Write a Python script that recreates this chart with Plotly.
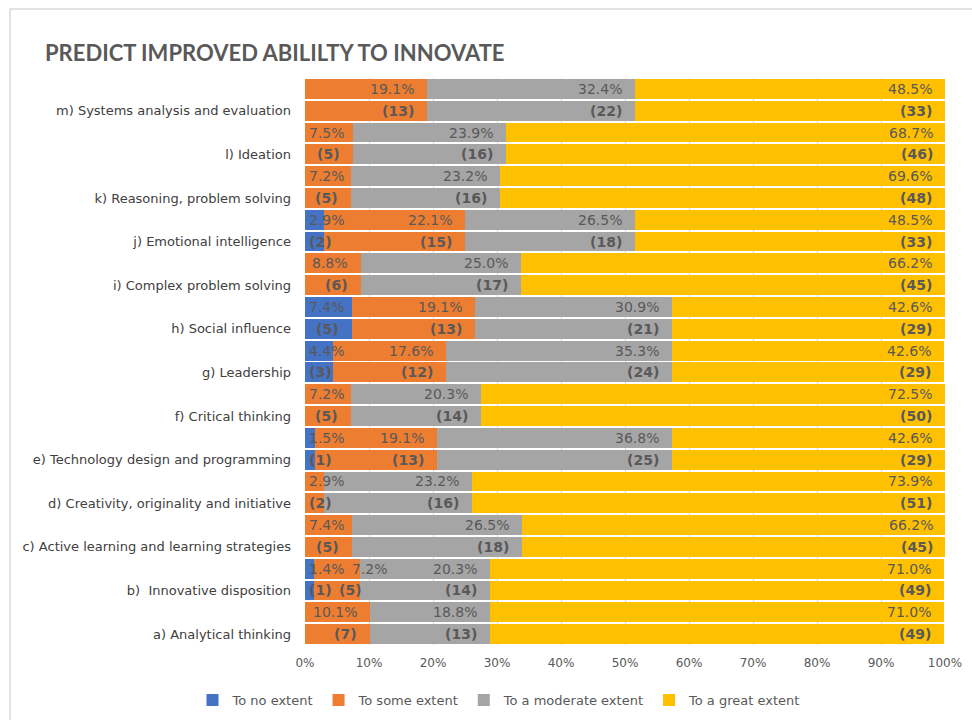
import plotly.graph_objects as go

categories = [
    "a) Analytical thinking",
    "b)  Innovative disposition",
    "c) Active learning and learning strategies",
    "d) Creativity, originality and initiative",
    "e) Technology design and programming",
    "f) Critical thinking",
    "g) Leadership",
    "h) Social influence",
    "i) Complex problem solving",
    "j) Emotional intelligence",
    "k) Reasoning, problem solving",
    "l) Ideation",
    "m) Systems analysis and evaluation",
]
series_names = ["To no extent", "To some extent", "To a moderate extent", "To a great extent"]
colors = ["#4472C4", "#ED7D31", "#A5A5A5", "#FFC000"]

pct_none = [0, 1.4, 0, 0, 1.5, 0, 4.4, 7.4, 0, 2.9, 0, 0, 0]
pct_some = [10.1, 7.2, 7.4, 2.9, 19.1, 7.2, 17.6, 19.1, 8.8, 22.1, 7.2, 7.5, 19.1]
pct_mod = [18.8, 20.3, 26.5, 23.2, 36.8, 20.3, 35.3, 30.9, 25.0, 26.5, 23.2, 23.9, 32.4]
pct_great = [71.0, 71.0, 66.2, 73.9, 42.6, 72.5, 42.6, 42.6, 66.2, 48.5, 69.6, 68.7, 48.5]

cnt_none = [0, 1, 0, 0, 1, 0, 3, 5, 0, 2, 0, 0, 0]
cnt_some = [7, 5, 5, 2, 13, 5, 12, 13, 6, 15, 5, 5, 13]
cnt_mod = [13, 14, 18, 16, 25, 14, 24, 21, 17, 18, 16, 16, 22]
cnt_great = [49, 49, 45, 51, 29, 50, 29, 29, 45, 33, 48, 46, 33]

pcts = [pct_none, pct_some, pct_mod, pct_great]
cnts = [cnt_none, cnt_some, cnt_mod, cnt_great]

FONT = "DejaVu Sans, Verdana, sans-serif"
TITLE_FONT = "Lato, Carlito, Calibri, sans-serif"
TXT = "#595959"
LBL_SIZE = 14

n = len(categories)
y_top = [i + 0.25 for i in range(n)]
y_bot = [i - 0.25 for i in range(n)]

fig = go.Figure()
for s in range(4):
    fig.add_trace(go.Bar(
        orientation="h",
        y=y_top + y_bot,
        x=pcts[s] + pcts[s],
        width=0.455,
        name=series_names[s],
        marker=dict(color=colors[s], line=dict(width=0)),
        hoverinfo="skip",
    ))

# label placement (Excel-like inside-end, shifted when it does not fit)
PX_PER_UNIT = 6.4
CW_REG = {".": 0.318, "%": 0.95, "(": 0.39, ")": 0.39}
CW_BOLD = {".": 0.38, "%": 1.0, "(": 0.457, ")": 0.457}


def width_units(t, bold=False):
    table = CW_BOLD if bold else CW_REG
    dig = 0.696 if bold else 0.636
    w = sum(table.get(c, dig) for c in t) * LBL_SIZE
    return w / PX_PER_UNIT


PAD_R = 11 / PX_PER_UNIT
PAD_L = 2 / PX_PER_UNIT
GAP = 7 / PX_PER_UNIT

annotations = []
for i in range(n):
    for row, (yy, bold) in enumerate([(y_top[i], False), (y_bot[i], True)]):
        start = 0.0
        prev_right = -1e9
        for s in range(4):
            v = pcts[s][i]
            end = start + v
            if v > 0:
                t = f"{v:.1f}%" if row == 0 else f"({cnts[s][i]})"
                w = width_units(t, bold)
                min_left = max(start + PAD_L, prev_right + GAP)
                right = end - PAD_R
                if right - w >= min_left:
                    x, anchor = right, "right"
                    prev_right = right
                else:
                    x, anchor = min_left, "left"
                    prev_right = min_left + w
                annotations.append(dict(
                    x=x, y=yy, xref="x", yref="y", text=(f"<b>{t}</b>" if bold else t),
                    showarrow=False, xanchor=anchor, yanchor="middle",
                    font=dict(family=FONT, size=LBL_SIZE, color=TXT),
                ))
            start = end


def px_x(p):
    return (p - 305) / 640.0


def px_y(p):
    return (645 - p) / 567.0


# chart frame (left and top border like the Excel chart area)
shapes = [
    dict(type="line", xref="paper", yref="paper", x0=px_x(10), x1=px_x(10),
         y0=px_y(9), y1=px_y(725), line=dict(color="#D9D9D9", width=1.5), layer="below"),
    dict(type="line", xref="paper", yref="paper", x0=px_x(10), x1=px_x(985),
         y0=px_y(9), y1=px_y(9), line=dict(color="#D9D9D9", width=1.5), layer="below"),
]

fig.update_layout(
    width=972, height=720,
    margin=dict(l=305, r=27, t=78, b=75, autoexpand=False),
    barmode="stack",
    plot_bgcolor="white", paper_bgcolor="white",
    font=dict(family=FONT, color=TXT, size=13),
    title=dict(
        text="<b>PREDICT IMPROVED ABILILTY TO INNOVATE</b>",
        x=45 / 972, xanchor="left", xref="container",
        y=1 - 53 / 720, yanchor="middle", yref="container",
        font=dict(family=TITLE_FONT, size=22, color=TXT),
    ),
    xaxis=dict(
        range=[0, 100], dtick=10, ticksuffix="%", showgrid=True,
        gridcolor="#D9D9D9", gridwidth=1, zeroline=False, showline=False,
        tickfont=dict(family=FONT, size=12, color=TXT), fixedrange=True,
        ticklabelstandoff=9,
    ),
    yaxis=dict(
        range=[-0.5, n - 0.5], tickvals=y_bot, ticktext=categories,
        showgrid=False, zeroline=False, showline=False, ticks="",
        tickfont=dict(family=FONT, size=13, color="#404040"), fixedrange=True,
        ticklabelstandoff=13,
    ),
    legend=dict(
        orientation="h", x=px_x(499), xanchor="center", y=px_y(700), yanchor="middle",
        font=dict(family=FONT, size=13, color=TXT), traceorder="normal",
        itemclick=False, itemdoubleclick=False,
    ),
    annotations=annotations,
    shapes=shapes,
    showlegend=True,
)

fig.write_html("out.html")
